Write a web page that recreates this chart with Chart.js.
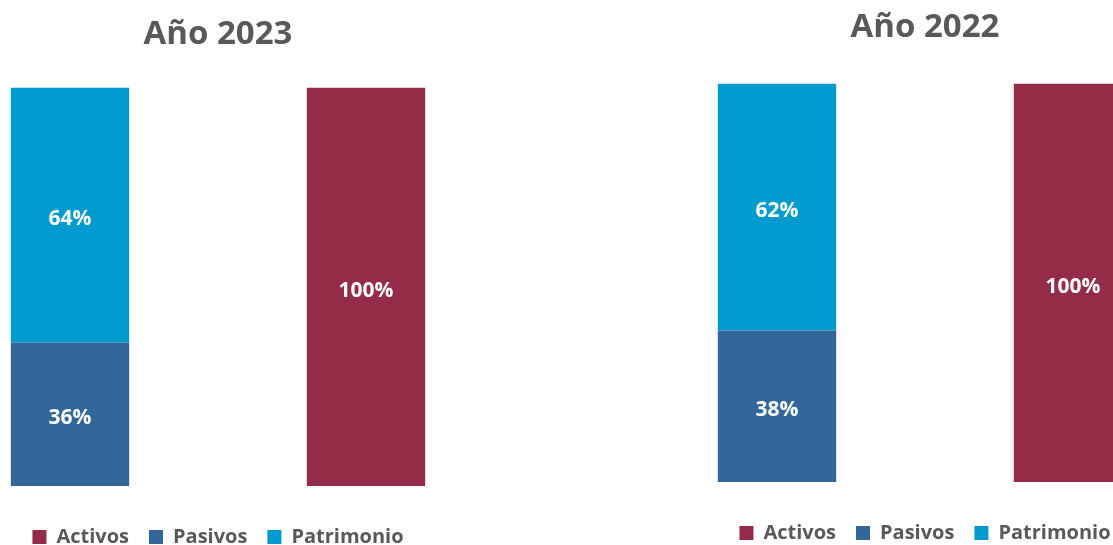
<!DOCTYPE html>
<html>
<head>
<meta charset="utf-8">
<script src="https://cdn.jsdelivr.net/npm/chart.js"></script>
<style>
  html, body { margin: 0; padding: 0; background: #fff; overflow: hidden; width: 1113px; height: 545px; }
  .box { position: absolute; width: 592px; height: 557px; }
  #box2023 { left: -78px; top: 0; }
  #box2022 { left: 629px; top: -4px; }
</style>
</head>
<body>
<div class="box" id="box2023"><canvas id="chart2023"></canvas></div>
<div class="box" id="box2022"><canvas id="chart2022"></canvas></div>
<script>
const categories = ["Pasivos y Patrimonio", "Activos"];
const years = ["Año 2023", "Año 2022"];
const activos = [100, 100];
const pasivos = [36, 38];
const patrimonio = [64, 62];

const colors = { activos: '#942C48', pasivos: '#336699', patrimonio: '#009BCE' };
const gray = '#595959';

// white % labels in the middle of each bar piece
const barLabels = {
  id: 'barLabels',
  afterDatasetsDraw(chart) {
    const ctx = chart.ctx;
    ctx.save();
    ctx.font = 'bold 21px "Open Sans"';
    ctx.fillStyle = '#fff';
    ctx.textAlign = 'center';
    ctx.textBaseline = 'middle';
    chart.data.datasets.forEach((ds, i) => {
      chart.getDatasetMeta(i).data.forEach((bar, j) => {
        const v = ds.data[j];
        if (v == null) return;
        ctx.fillText(v + '%', bar.x, (bar.y + bar.base) / 2 + 4);
      });
    });
    ctx.restore();
  }
};

function makeChart(id, k, titlePad) {
  new Chart(document.getElementById(id), {
    type: 'bar',
    data: {
      labels: categories,
      datasets: [
        { label: 'Activos', data: [null, activos[k]], backgroundColor: colors.activos },
        { label: 'Pasivos', data: [pasivos[k], null], backgroundColor: colors.pasivos },
        { label: 'Patrimonio', data: [patrimonio[k], null], backgroundColor: colors.patrimonio }
      ]
    },
    options: {
      responsive: true,
      maintainAspectRatio: false,
      animation: false,
      layout: { padding: 0 },
      datasets: { bar: { barPercentage: 1, categoryPercentage: 0.4 } },
      scales: {
        x: {
          stacked: true,
          grid: { display: false },
          border: { display: false },
          ticks: { display: false },
          afterFit(scale) { scale.height = 21; }
        },
        y: {
          stacked: true,
          display: false,
          min: 0,
          max: 100
        }
      },
      plugins: {
        title: {
          display: true,
          text: years[k],
          color: gray,
          font: { family: 'Open Sans', size: 33, weight: 'bold' },
          padding: titlePad
        },
        legend: {
          position: 'bottom',
          labels: {
            boxWidth: 14,
            boxHeight: 14,
            padding: 20,
            color: gray,
            font: { family: 'Open Sans', size: 20, weight: 'bold' }
          }
        },
        tooltip: { enabled: false }
      }
    },
    plugins: [barLabels]
  });
}

makeChart('chart2023', 0, { top: 15, bottom: 33 });
makeChart('chart2022', 1, { top: 12, bottom: 36 });
</script>
</body>
</html>
